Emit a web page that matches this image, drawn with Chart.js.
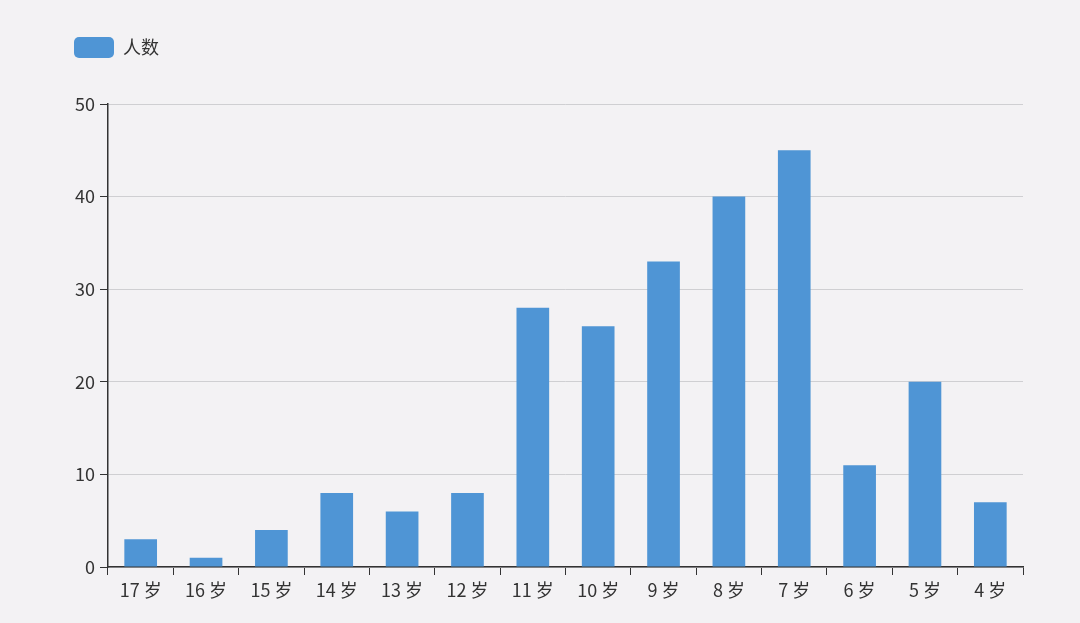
<!DOCTYPE html>
<html>
<head>
<meta charset="utf-8">
<script src="https://cdn.jsdelivr.net/npm/chart.js@4"></script>
<style>
  html, body { margin: 0; padding: 0; background: #f3f2f4; }
  #wrap { width: 1080px; height: 623px; }
</style>
</head>
<body>
<div id="wrap"><canvas id="myChart" width="1080" height="623"></canvas></div>
<script>
// categories and values
var ages = ['17 岁', '16 岁', '15 岁', '14 岁', '13 岁', '12 岁', '11 岁', '10 岁', '9 岁', '8 岁', '7 岁', '6 岁', '5 岁', '4 岁'];
var counts = [3, 1, 4, 8, 6, 8, 28, 26, 33, 40, 45, 11, 20, 7];
var seriesName = '人数';

Chart.defaults.font.family = '"Noto Sans CJK SC", "Noto Sans", sans-serif';
Chart.defaults.color = '#333';

// give the legend some extra room underneath, like the original
var legendGap = {
    id: 'legendGap',
    beforeLayout: function (chart) {
        if (chart.legend && !chart.legend._gapped) {
            var fit = chart.legend.fit;
            chart.legend.fit = function () {
                fit.call(this);
                this.height += 36;
            };
            chart.legend._gapped = true;
        }
    }
};

window.onload = function () {
    var ctx = document.getElementById('myChart').getContext('2d');
    var myChart = new Chart(ctx, {
        type: 'bar',
        data: {
            labels: ages,
            datasets: [{
                label: seriesName,
                data: counts,
                backgroundColor: '#4f95d5',
                borderWidth: 0,
                barPercentage: 0.5,
                categoryPercentage: 1
            }]
        },
        options: {
            responsive: false,
            animation: false,
            layout: { padding: { left: 64, right: 57, top: 27, bottom: 8 } },
            plugins: {
                tooltip: { enabled: false },
                legend: {
                    align: 'start',
                    labels: {
                        boxWidth: 40,
                        boxHeight: 21,
                        useBorderRadius: true,
                        borderRadius: 5,
                        padding: 10,
                        font: { size: 18 },
                        color: '#333'
                    }
                }
            },
            scales: {
                x: {
                    grid: { drawOnChartArea: false, tickLength: 8, color: '#333', offset: true },
                    border: { color: '#333', width: 1.5 },
                    ticks: { font: { size: 18 }, color: '#333', padding: 4 },
                    afterFit: function (s) { s.height = 48; }
                },
                y: {
                    min: 0,
                    max: 50,
                    ticks: { stepSize: 10, font: { size: 18 }, color: '#333', padding: 5 },
                    grid: { color: '#cfcfd2', tickColor: '#333', tickLength: 8 },
                    border: { color: '#333', width: 1.5 },
                    afterFit: function (s) { s.width = 44; }
                }
            }
        },
        plugins: [legendGap]
    });
};
</script>
</body>
</html>
